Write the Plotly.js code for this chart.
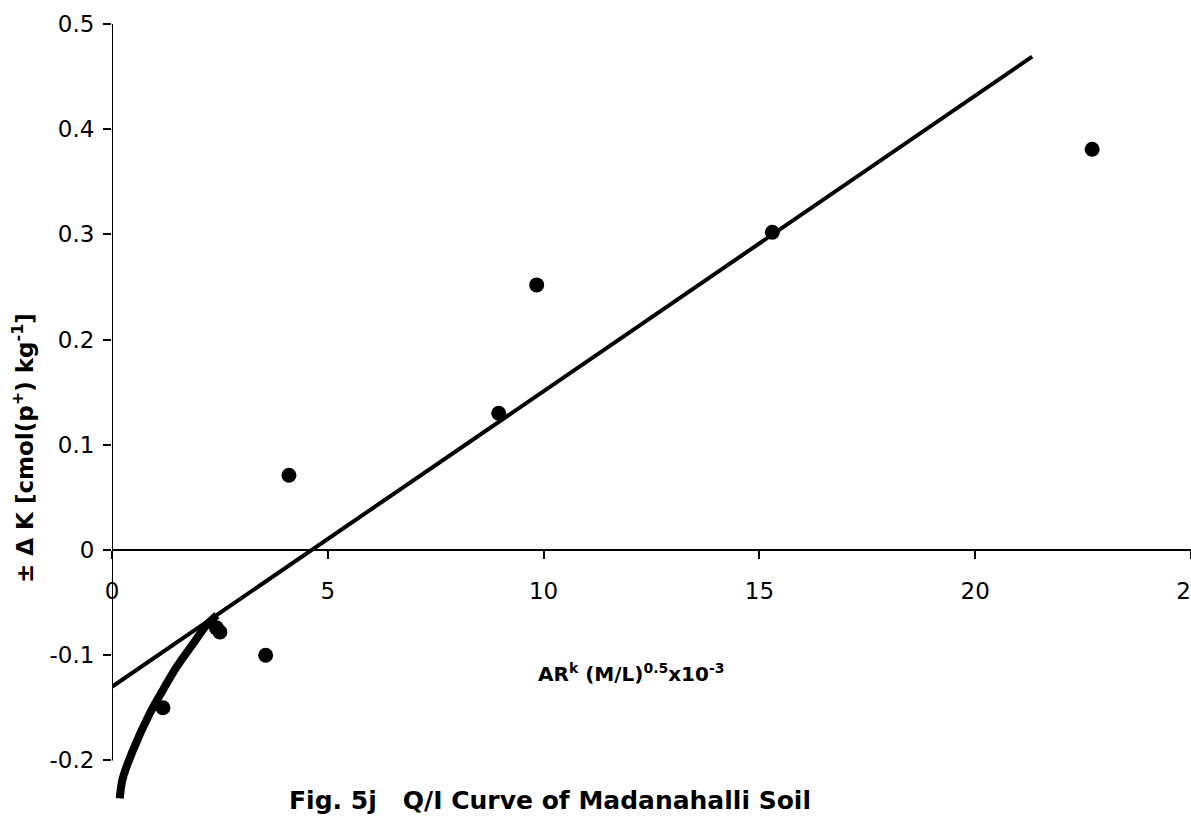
<!DOCTYPE html>
<html>
<head>
<meta charset="utf-8">
<script src="https://cdn.plot.ly/plotly-3.0.1.min.js"></script>
<style>html,body{margin:0;padding:0;background:#fff;}#chart{width:1191px;height:836px;}</style>
</head>
<body>
<div id="chart"></div>
<script>
// Observed data points
const pointsX = [1.18, 2.42, 2.5, 3.56, 4.1, 8.96, 9.84, 15.3, 22.71];
const pointsY = [-0.150, -0.074, -0.078, -0.100, 0.071, 0.130, 0.252, 0.302, 0.381];
// Linear Q/I fit line
const fitX = [0, 21.32];
const fitY = [-0.13, 0.469];
// Curved low-AR portion
const curveX = [0.18, 0.25, 0.49, 0.88, 1.18, 1.5, 1.88, 2.2, 2.43];
const curveY = [-0.236, -0.217, -0.19, -0.155, -0.133, -0.111, -0.089, -0.071, -0.062];
// Tick labels
const xTickVals = [0, 5, 10, 15, 20, 25];
const xTickText = ['0', '5', '10', '15', '20', '25'];
const yTickVals = [-0.2, -0.1, 0, 0.1, 0.2, 0.3, 0.4, 0.5];
const yTickText = ['-0.2', '-0.1', '0', '0.1', '0.2', '0.3', '0.4', '0.5'];

const traces = [
  {x: fitX, y: fitY, type: 'scatter', mode: 'lines', line: {color: '#000', width: 4}, hoverinfo: 'skip'},
  {x: curveX, y: curveY, type: 'scatter', mode: 'lines', line: {color: '#000', width: 8, shape: 'spline'}, hoverinfo: 'skip'},
  {x: pointsX, y: pointsY, type: 'scatter', mode: 'markers', marker: {color: '#000', size: 15}}
];

const layout = {
  width: 1191, height: 836,
  margin: {l: 112, r: 0, t: 24, b: 23},
  paper_bgcolor: '#fff', plot_bgcolor: '#fff',
  showlegend: false,
  font: {family: 'DejaVu Sans, Arial, sans-serif', color: '#000'},
  title: {
    text: 'Fig. 5j\u00a0\u00a0\u00a0Q/I Curve of Madanahalli Soil',
    font: {family: 'DejaVu Sans, Arial, sans-serif', size: 25, weight: 'bold', color: '#000'},
    x: 550 / 1191, xanchor: 'center', xref: 'container',
    y: (836 - 800) / 836, yanchor: 'middle', yref: 'container'
  },
  xaxis: {
    range: [0, 25], anchor: 'free', position: 1 / 3,
    showgrid: false, zeroline: false,
    showline: true, linecolor: '#000', linewidth: 2,
    ticks: 'outside', ticklen: 8, tickwidth: 2, tickcolor: '#000',
    tickvals: xTickVals, ticktext: xTickText,
    tickfont: {size: 23, color: '#000', family: 'DejaVu Sans, Arial, sans-serif'},
    ticklabelstandoff: 12, ticklabeloverflow: 'allow'
  },
  yaxis: {
    range: [-0.25, 0.5],
    showgrid: false, zeroline: false, showline: false,
    ticks: 'outside', ticklen: 8, tickwidth: 2, tickcolor: '#000',
    tickvals: yTickVals, ticktext: yTickText,
    tickfont: {size: 23, color: '#000', family: 'DejaVu Sans, Arial, sans-serif'},
    ticklabelstandoff: 4
  },
  shapes: [
    {type: 'line', xref: 'x', yref: 'y', x0: 0, x1: 0, y0: -0.2, y1: 0.5, line: {color: '#000', width: 2}}
  ],
  annotations: [
    {xref: 'x', yref: 'y', x: 12.03, y: -0.117, showarrow: false,
     text: 'AR<sup>k</sup> (M/L)<sup>0.5</sup>x10<sup>-3</sup>',
     font: {size: 20, weight: 'bold', color: '#000', family: 'DejaVu Sans, Arial, sans-serif'}},
    {xref: 'paper', yref: 'paper', x: (23 - 112) / 1079, y: (813 - 448) / 789, showarrow: false,
     textangle: -90, xanchor: 'center', yanchor: 'middle',
     text: '\u00b1\u00a0\u0394\u00a0K [cmol(p<sup>+</sup>) kg<sup>-1</sup>]',
     font: {size: 23, weight: 'bold', color: '#000', family: 'DejaVu Sans, Arial, sans-serif'}}
  ]
};

Plotly.newPlot('chart', traces, layout, {displayModeBar: false, staticPlot: true});
</script>
</body>
</html>
